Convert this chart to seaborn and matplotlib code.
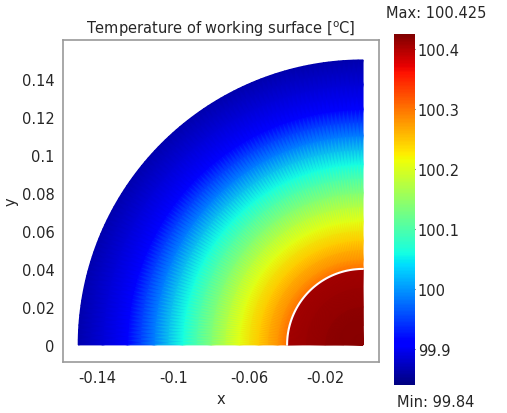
import numpy as np
import seaborn as sns
import matplotlib
matplotlib.use("Agg")
import matplotlib.pyplot as plt

# radial temperature profile (outer ring and inner disk)
outer_r = [0.04, 0.045, 0.055, 0.065, 0.08, 0.095, 0.11, 0.124, 0.137, 0.15]
outer_T = [100.30, 100.28, 100.245, 100.206, 100.135, 100.06, 99.985, 99.915, 99.885, 99.865]
inner_r = [0.0, 0.02, 0.04]
inner_T = [100.425, 100.415, 100.405]
t_min, t_max = 99.84, 100.425
cbar_ticks = [99.9, 100.0, 100.1, 100.2, 100.3, 100.4]
x_ticks = [-0.14, -0.1, -0.06, -0.02]
y_ticks = [0, 0.02, 0.04, 0.06, 0.08, 0.1, 0.12, 0.14]

sns.set_style("white")
plt.rcParams["font.family"] = ["DejaVu Sans"]
cmap = matplotlib.colormaps["jet"]  # seaborn refuses "jet" by name

fig = plt.figure(figsize=(5.07, 4.14), dpi=100)
ax = fig.add_axes([63 / 507, 51 / 414, 316 / 507, 322 / 414])

theta = np.linspace(np.pi / 2, np.pi, 91)


def draw_patch(r_list, t_list):
    R, TH = np.meshgrid(np.array(r_list), theta)
    X = R * np.cos(TH)
    Y = R * np.sin(TH)
    C = np.tile(np.array(t_list), (len(theta), 1))
    return ax.pcolormesh(X, Y, C, cmap=cmap, vmin=t_min, vmax=t_max,
                         shading="gouraud", rasterized=True)


mesh = draw_patch(outer_r, outer_T)
draw_patch(inner_r, inner_T)
ax.plot(0.04 * np.cos(theta), 0.04 * np.sin(theta), color="white", lw=1.5)

ax.set_xlim(-0.158, 0.0084)
ax.set_ylim(-0.009, 0.1605)
ax.set_xticks(x_ticks)
ax.set_xticklabels(["%g" % v for v in x_ticks])
ax.set_yticks(y_ticks)
ax.set_yticklabels(["%g" % v for v in y_ticks])
ax.tick_params(length=0, labelsize=10.5, pad=6)
for s in ax.spines.values():
    s.set_color("#9a9a9a")
    s.set_linewidth(1.2)
ax.set_xlabel("x", fontsize=10.5, labelpad=4)
ax.set_ylabel("y", fontsize=10.5, labelpad=2)
ax.set_title("Temperature of working surface [$^{\\mathrm{o}}$C]", fontsize=10.5, pad=5)

cax = fig.add_axes([394 / 507, 28 / 414, 21 / 507, 351 / 414])
cb = fig.colorbar(mesh, cax=cax, ticks=cbar_ticks)
cb.outline.set_visible(False)
cb.ax.set_yticklabels(["%g" % v for v in cbar_ticks])
cax.tick_params(direction="in", length=3, left=True, right=True, labelsize=10.5, pad=2)
fig.text(436 / 507, 1 - 13 / 414, "Max: %g" % t_max, ha="center", va="center", fontsize=10.5)
fig.text(436 / 507, 1 - 403 / 414, "Min: %g" % t_min, ha="center", va="center", fontsize=10.5)

fig.savefig("out.png", dpi=100)
